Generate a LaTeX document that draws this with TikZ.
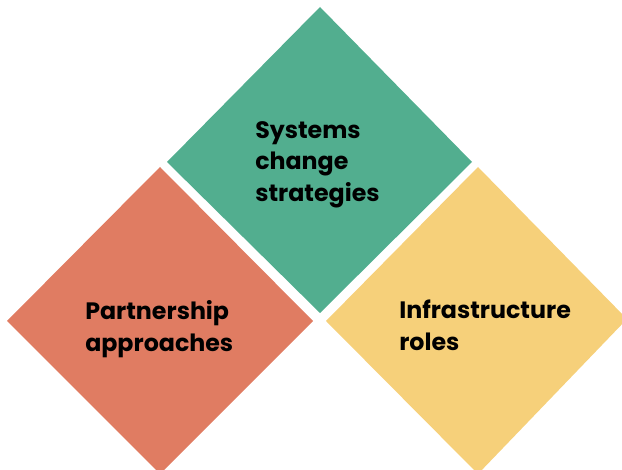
\documentclass[tikz,border=0pt]{standalone}
\usepackage{fontspec}
\setmainfont{Poppins}[UprightFont=* SemiBold,BoldFont=* Bold]
\definecolor{sysgreen}{RGB}{82,174,143}
\definecolor{partorange}{RGB}{224,124,98}
\definecolor{infrayellow}{RGB}{246,208,122}
\tikzset{
  tile/.style={draw=none},
  label text/.style={anchor=north west,inner sep=0.75pt,align=left,font=\bfseries\fontsize{17.8}{23.8}\selectfont}
}
\begin{document}
\begin{tikzpicture}[x=0.75pt,y=0.75pt,yscale=-1,xscale=1]
\useasboundingbox (0,0) rectangle (622,470);
\clip (0,0) rectangle (622,470);

%Shape: Diamond [id:systems]
\draw [tile, fill=sysgreen] (320,7) -- (472,162) -- (320,313) -- (167,162) -- cycle ;
%Shape: Diamond [id:partnership]
\draw [tile, fill=partorange] (160,167) -- (313,321) -- (160,474) -- (7,321) -- cycle ;
%Shape: Diamond [id:infrastructure]
\draw [tile, fill=infrayellow] (478,167) -- (627,319) -- (478,474) -- (326,321) -- cycle ;

% Text Node
\draw (254,120) node [label text] (sys) {Systems\\change\\strategies};
% Text Node
\draw (84,299) node [label text] (part) {Partnership\\approaches};
% Text Node
\draw (398,299) node [label text] (infra) {Infrastructure\\roles};

\end{tikzpicture}
\end{document}
